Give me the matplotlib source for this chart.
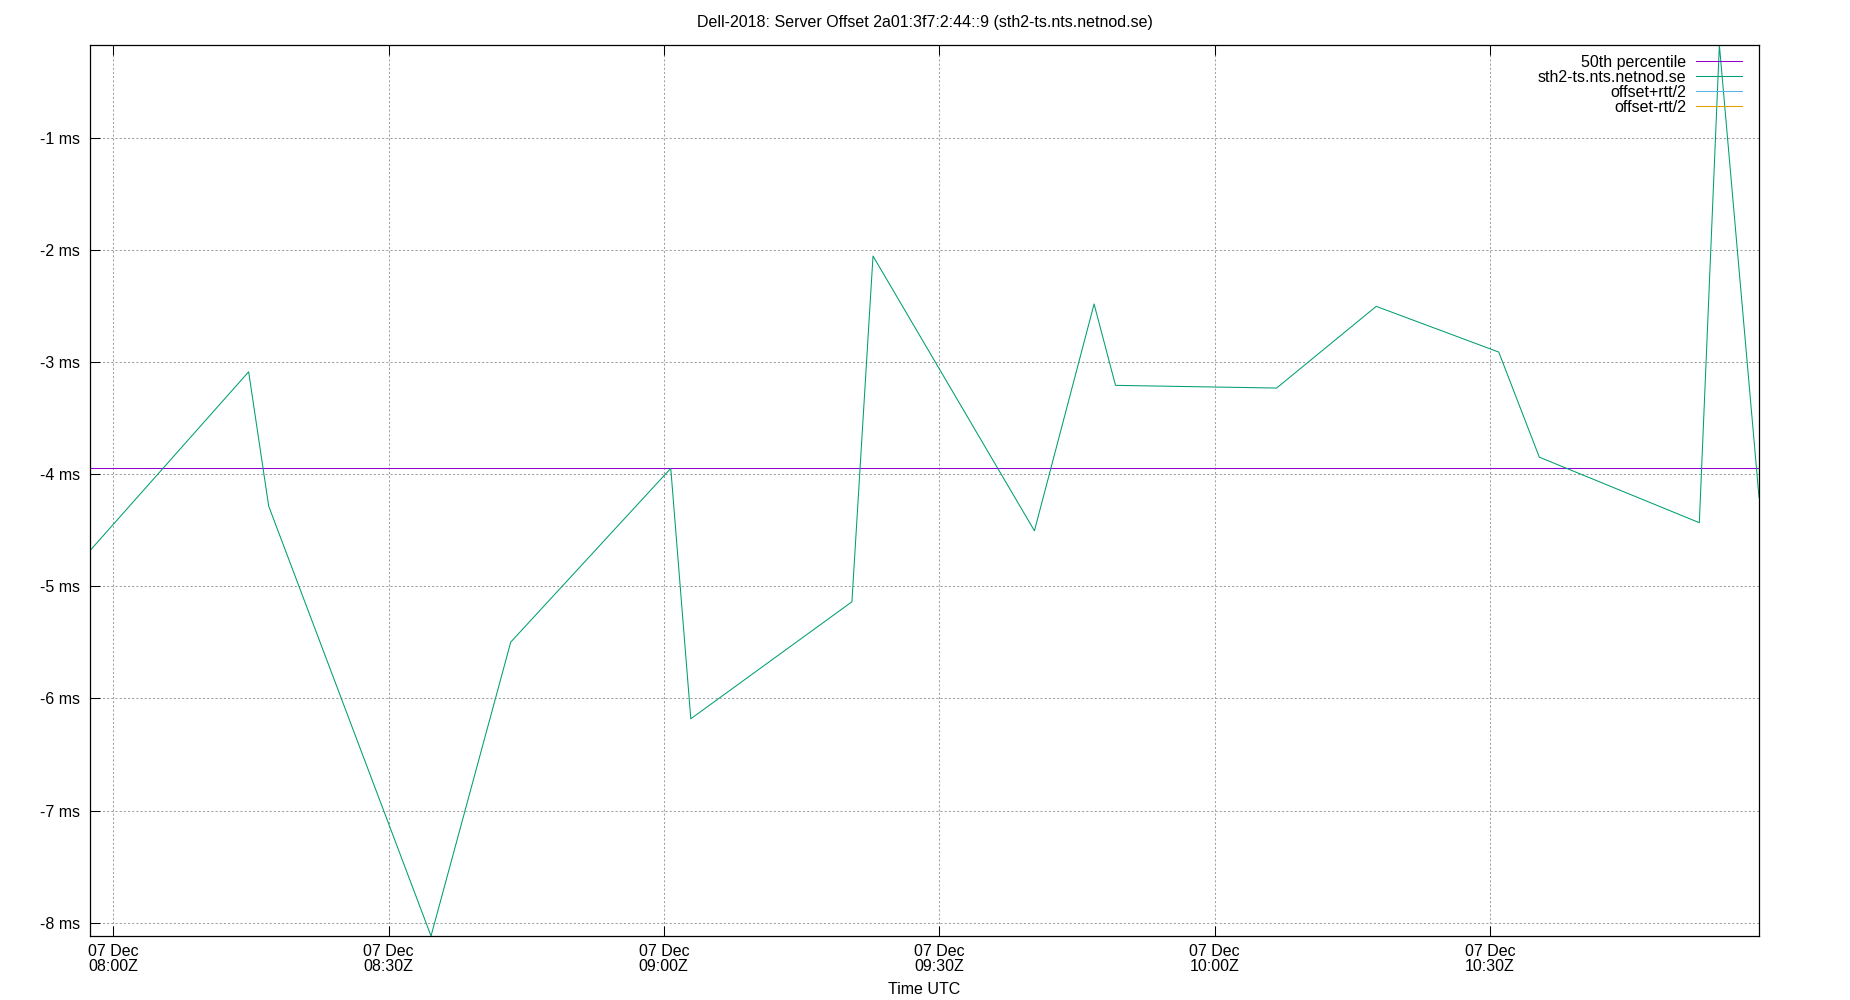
import matplotlib
matplotlib.use("Agg")
import matplotlib.pyplot as plt
import matplotlib.dates as mdates
import numpy as np
import pandas as pd

plt.rcParams['font.family'] = ['Liberation Sans', 'DejaVu Sans']
plt.rcParams['lines.scale_dashes'] = False

# ---- data ----
times = [
    "2018-12-07 07:57:28", "2018-12-07 08:14:45", "2018-12-07 08:16:56",
    "2018-12-07 08:34:37", "2018-12-07 08:43:18", "2018-12-07 09:00:44",
    "2018-12-07 09:02:55", "2018-12-07 09:20:28", "2018-12-07 09:22:46",
    "2018-12-07 09:40:21", "2018-12-07 09:46:51", "2018-12-07 09:49:11",
    "2018-12-07 10:06:44", "2018-12-07 10:17:35", "2018-12-07 10:30:56",
    "2018-12-07 10:35:21", "2018-12-07 10:52:47", "2018-12-07 10:54:58",
    "2018-12-07 10:59:17",
]
offset_ms = [
    -4.68, -3.084, -4.283, -8.12, -5.497, -3.946, -6.181, -5.137, -2.051,
    -4.503, -2.479, -3.205, -3.229, -2.50, -2.908, -3.846, -4.431, -0.167,
    -4.203,
]
offset_plus_rtt2 = []
offset_minus_rtt2 = []
y_ticks = [-1, -2, -3, -4, -5, -6, -7, -8]
x_ticks = ["2018-12-07 08:00", "2018-12-07 08:30", "2018-12-07 09:00",
           "2018-12-07 09:30", "2018-12-07 10:00", "2018-12-07 10:30"]

title = "Dell-2018: Server Offset 2a01:3f7:2:44::9 (sth2-ts.nts.netnod.se)"
series_label = "sth2-ts.nts.netnod.se"

t = pd.to_datetime(times)
p50 = float(np.percentile(offset_ms, 50))

FS = 11.5

fig = plt.figure(figsize=(18.5, 10), dpi=100)
ax = fig.add_axes([90/1850, 1-936/1000, (1759-90)/1850, (936-45)/1000])

lw = 0.75
ax.plot([t[0], t[-1]], [p50, p50], color="#9400d3", lw=lw, label="50th percentile")
ax.plot(t, offset_ms, color="#009e73", lw=lw, label=series_label)
ax.plot(t[:len(offset_plus_rtt2)], offset_plus_rtt2, color="#56b4e9", lw=lw, label="offset+rtt/2")
ax.plot(t[:len(offset_minus_rtt2)], offset_minus_rtt2, color="#e69f00", lw=lw, label="offset-rtt/2")

ax.set_xlim(t[0], t[-1])
ax.set_ylim(min(offset_ms), max(offset_ms))

ax.set_yticks(y_ticks)
ax.set_yticklabels([f"{v} ms" for v in y_ticks])
ax.set_xticks(pd.to_datetime(x_ticks))
ax.xaxis.set_major_formatter(mdates.DateFormatter("%d %b\n%H:%MZ"))
for lab in ax.get_xticklabels():
    lab.set_multialignment('left')
    lab.set_linespacing(0.95)

ax.tick_params(axis='x', direction='in', length=7, width=0.75, top=True,
               labelsize=FS, pad=6)
ax.tick_params(axis='y', direction='in', length=7, width=0.75, right=False,
               labelsize=FS, pad=7)
for s in ax.spines.values():
    s.set_linewidth(0.9)

ax.grid(True, color="#a0a0a0", linestyle=(0, (1.5, 1.5)), linewidth=0.75)
ax.set_axisbelow(True)

ax.set_xlabel("Time UTC", fontsize=FS, labelpad=6)
fig.text(0.5, 1-23/1000, title, ha='center', va='center', fontsize=FS)

leg = ax.legend(loc='upper right', bbox_to_anchor=(0.9933, 0.9953),
                frameon=False, markerfirst=False,
                fontsize=FS, handlelength=2.9, handletextpad=0.6,
                labelspacing=0.0, borderaxespad=0.0, borderpad=0.35)
for txt in leg.get_texts():
    txt.set_ha('right')

fig.savefig("out.png", dpi=100)
